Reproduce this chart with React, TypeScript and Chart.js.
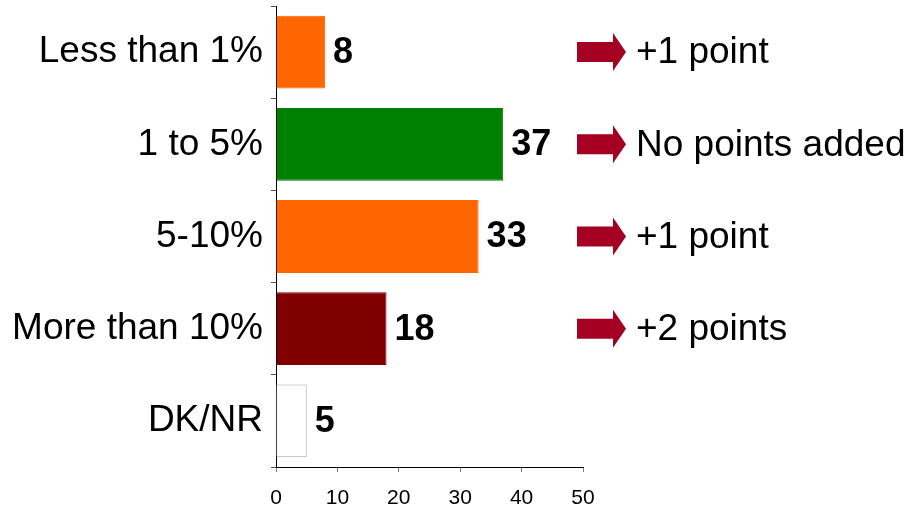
import React, { useEffect, useRef } from "react";
import { Chart, registerables } from "chart.js";

Chart.register(...registerables);

const categories = ["Less than 1%", "1 to 5%", "5-10%", "More than 10%", "DK/NR"];
const values = [8, 37, 33, 18, 5];
const barColors = ["#FF6600", "#008000", "#FF6600", "#800000", "#FFFFFF"];
const barBorders = ["#FF6600", "#008000", "#FF6600", "#800000", "#A6A6A6"];
const notes = ["+1 point", "No points added", "+1 point", "+2 points", ""];
const xTicks = [0, 10, 20, 30, 40, 50];

const FONT = '"Liberation Sans", Arial, Helvetica, sans-serif';

// Bold value next to the end of each bar
const valueLabels = {
  id: "valueLabels",
  afterDatasetsDraw(chart: any) {
    const ctx = chart.ctx;
    const meta = chart.getDatasetMeta(0);
    ctx.save();
    ctx.font = `bold 36px ${FONT}`;
    ctx.fillStyle = "#000";
    ctx.textAlign = "left";
    ctx.textBaseline = "middle";
    meta.data.forEach((bar: any, i: number) => {
      ctx.fillText(String(values[i]), bar.x + 8, bar.y + 1);
    });
    ctx.restore();
  },
};

// Arrow plus note to the right of the plot, aligned with each category
const arrowNotes = {
  id: "arrowNotes",
  afterDraw(chart: any) {
    const ctx = chart.ctx;
    const yScale = chart.scales.y;
    ctx.save();
    notes.forEach((note, i) => {
      if (!note) return;
      const cy = yScale.getPixelForValue(i);
      const x0 = 577;
      const xh = 613;
      const xt = 626;
      ctx.fillStyle = "#A50021";
      ctx.beginPath();
      ctx.moveTo(x0, cy - 10);
      ctx.lineTo(xh, cy - 10);
      ctx.lineTo(xh, cy - 19);
      ctx.lineTo(xt, cy);
      ctx.lineTo(xh, cy + 19);
      ctx.lineTo(xh, cy + 10);
      ctx.lineTo(x0, cy + 10);
      ctx.closePath();
      ctx.fill();
      ctx.font = `37px ${FONT}`;
      ctx.fillStyle = "#000";
      ctx.textAlign = "left";
      ctx.textBaseline = "middle";
      ctx.fillText(note, 636, cy + 1);
    });
    ctx.restore();
  },
};

export default function App() {
  const canvasRef = useRef<HTMLCanvasElement | null>(null);

  useEffect(() => {
    if (!canvasRef.current) return;
    const chart = new Chart(canvasRef.current, {
      type: "bar",
      data: {
        labels: categories,
        datasets: [
          {
            data: values,
            backgroundColor: barColors,
            borderColor: barBorders,
            borderWidth: 1,
            categoryPercentage: 1,
            barPercentage: 0.79,
          },
        ],
      },
      options: {
        indexAxis: "y",
        responsive: false,
        animation: false,
        layout: { padding: { left: 0, top: 6, right: 329, bottom: 0 } },
        plugins: {
          legend: { display: false },
          tooltip: { enabled: false },
        },
        scales: {
          x: {
            min: 0,
            max: 50,
            afterBuildTicks(scale: any) {
              scale.ticks = xTicks.map((v) => ({ value: v }));
            },
            afterFit(scale: any) {
              scale.height = 44;
              scale.paddingLeft = 0;
              scale.paddingRight = 0;
            },
            border: { display: true, color: "#000", width: 1 },
            grid: {
              drawOnChartArea: false,
              drawTicks: true,
              tickLength: 5,
              color: "#808080",
            },
            ticks: {
              color: "#000",
              padding: 14,
              maxRotation: 0,
              font: { family: FONT, size: 21 },
            },
          },
          y: {
            afterFit(scale: any) {
              scale.width = 276;
              scale.paddingTop = 0;
              scale.paddingBottom = 0;
            },
            border: { display: true, color: "#000", width: 1 },
            grid: {
              drawOnChartArea: false,
              drawTicks: true,
              tickLength: 5,
              color: "#555",
              offset: true,
            },
            ticks: {
              color: "#000",
              padding: 8,
              font: { family: FONT, size: 37 },
            },
          },
        },
      },
      plugins: [valueLabels, arrowNotes],
    });
    return () => chart.destroy();
  }, []);

  return (
    <div style={{ position: "fixed", left: 0, top: 0, width: 912, height: 511, background: "#fff" }}>
      <canvas ref={canvasRef} width={912} height={511} />
    </div>
  );
}
